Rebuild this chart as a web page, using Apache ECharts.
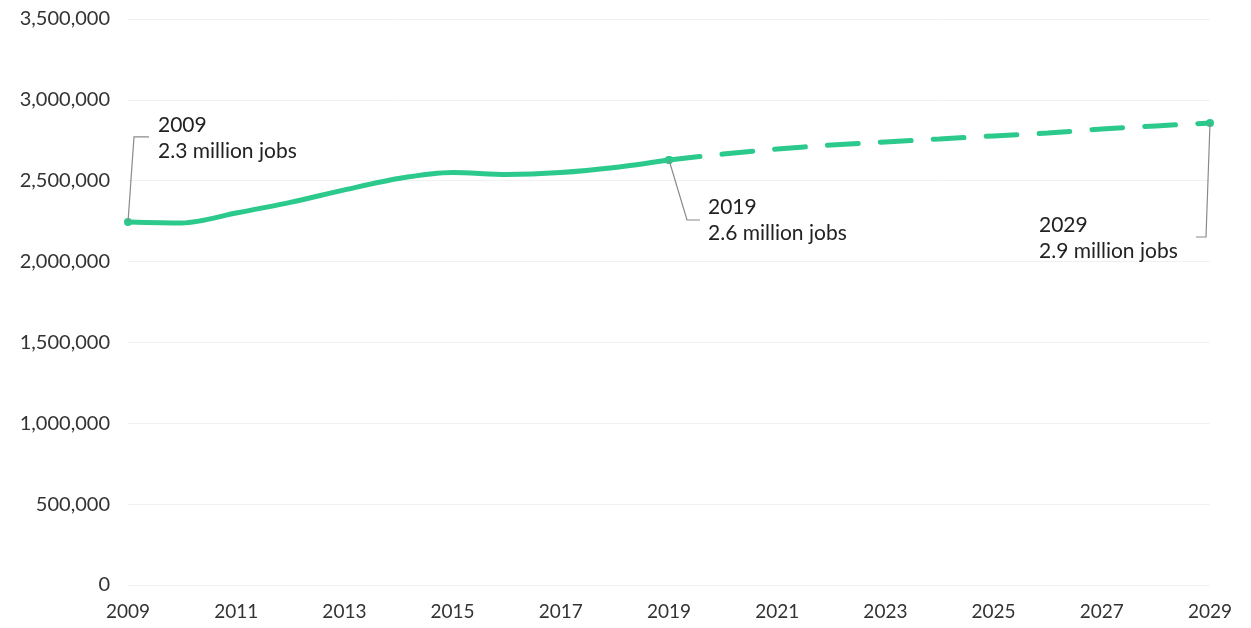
<!DOCTYPE html>
<html>
<head>
<meta charset="utf-8">
<script src="https://cdn.jsdelivr.net/npm/echarts@6/dist/echarts.min.js"></script>
<style>
  html, body { margin: 0; padding: 0; background: #ffffff; }
  #chart { width: 1251px; height: 628px; }
</style>
</head>
<body>
<div id="chart"></div>
<script>
// Years on the horizontal axis
const years = ['2009','2010','2011','2012','2013','2014','2015','2016','2017','2018','2019',
               '2020','2021','2022','2023','2024','2025','2026','2027','2028','2029'];

// Recorded jobs, 2009-2019
const actualJobs = [2245000, 2239000, 2300000, 2366000, 2443000, 2514000,
                    2551000, 2539000, 2551000, 2582000, 2628000];

// Projected jobs, 2019-2029 (starts at the last recorded year)
const projectedJobs = [2628000, 2665000, 2696000, 2721000, 2740000, 2758000,
                       2777000, 2795000, 2820000, 2839000, 2857000];

// Call-out notes: year, two lines of text
const callouts = [
  { year: '2009', lines: ['2009', '2.3 million jobs'] },
  { year: '2019', lines: ['2019', '2.6 million jobs'] },
  { year: '2029', lines: ['2029', '2.9 million jobs'] }
];

const GREEN = '#2bc98c';
const FONT = 'Lato, "Open Sans", sans-serif';

const firstProjected = years.length - projectedJobs.length;
const actualData = years.map((y, i) => i < actualJobs.length ? actualJobs[i] : null);
const projectedData = years.map((y, i) => i >= firstProjected ? projectedJobs[i - firstProjected] : null);
const calloutYears = callouts.map(c => c.year);

const chart = echarts.init(document.getElementById('chart'), null, { renderer: 'canvas' });

const markerSize = (val, params) => calloutYears.indexOf(years[params.dataIndex]) >= 0 ? 8 : 0;

chart.setOption({
  animation: false,
  backgroundColor: '#ffffff',
  grid: { left: 128, right: 41, top: 19, bottom: 43, containLabel: false },
  xAxis: {
    type: 'category',
    data: years,
    boundaryGap: false,
    axisLine: { show: false },
    axisTick: { show: false },
    axisLabel: {
      interval: 1,
      margin: 17,
      color: '#333333',
      fontFamily: FONT,
      fontSize: 19
    },
    splitLine: { show: false }
  },
  yAxis: {
    type: 'value',
    min: 0,
    max: 3500000,
    interval: 500000,
    axisLine: { show: false },
    axisTick: { show: false },
    axisLabel: {
      margin: 18,
      color: '#333333',
      fontFamily: FONT,
      fontSize: 20,
      formatter: v => v.toLocaleString('en-US')
    },
    splitLine: { lineStyle: { color: '#f1f1f1', width: 1 } }
  },
  series: [
    {
      name: 'Jobs',
      type: 'line',
      data: actualData,
      smooth: 0.3,
      connectNulls: false,
      symbol: 'circle',
      symbolSize: markerSize,
      showAllSymbol: true,
      itemStyle: { color: GREEN },
      lineStyle: { color: GREEN, width: 5 },
      z: 3
    },
    {
      name: 'Projected jobs',
      type: 'line',
      data: projectedData,
      smooth: 0.2,
      symbol: 'circle',
      symbolSize: markerSize,
      showAllSymbol: true,
      itemStyle: { color: GREEN },
      lineStyle: { color: GREEN, width: 5, type: [31, 22], cap: 'round' },
      z: 2
    }
  ]
});

// Leader lines and call-out text, anchored to the data points
function valueFor(year) {
  const i = years.indexOf(year);
  return actualData[i] != null ? actualData[i] : projectedData[i];
}

function buildCallouts() {
  const elements = [];
  const lineStyle = { stroke: '#8a8a8a', lineWidth: 1.2, fill: null };
  const textStyle = (x, y, txt) => ({
    type: 'text',
    x: x, y: y,
    style: { text: txt, fill: '#222222', font: '21px ' + FONT, textAlign: 'left', textVerticalAlign: 'middle' },
    z: 10
  });
  callouts.forEach((c, idx) => {
    const p = chart.convertToPixel({ seriesIndex: 0 }, [c.year, valueFor(c.year)]);
    let pts, tx, ty;
    if (idx === 0) {
      pts = [[p[0], p[1]], [p[0] + 6, p[1] - 85], [p[0] + 21, p[1] - 85]];
      tx = p[0] + 30; ty = p[1] - 97;
    } else if (idx === 1) {
      pts = [[p[0], p[1]], [p[0] + 18, p[1] + 60], [p[0] + 31, p[1] + 60]];
      tx = p[0] + 39; ty = p[1] + 47;
    } else {
      pts = [[p[0], p[1]], [p[0] - 4, p[1] + 114], [p[0] - 14, p[1] + 114]];
      tx = p[0] - 171; ty = p[1] + 102;
    }
    elements.push({ type: 'polyline', shape: { points: pts }, style: lineStyle, z: 9 });
    elements.push(textStyle(tx, ty, c.lines[0]));
    elements.push(textStyle(tx, ty + 26, c.lines[1]));
  });
  chart.setOption({ graphic: { elements: elements } });
}
buildCallouts();
</script>
</body>
</html>
